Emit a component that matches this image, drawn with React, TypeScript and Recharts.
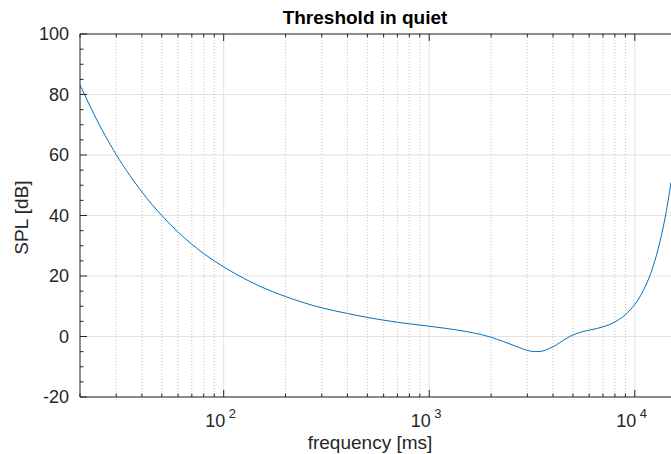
import React, { ReactElement } from "react";
import { LineChart, Line, XAxis, YAxis, CartesianGrid } from "recharts";

// frequency points (Hz) and threshold values (dB SPL)
const freq = [
    20, 22, 25, 28, 30, 35, 40, 45, 50, 60, 70, 80, 90, 100, 120, 150, 200, 250,
    300, 400, 500, 600, 700, 800, 1000, 1200, 1500, 1800, 2000, 2300, 2500, 2800,
    3000, 3300, 3500, 3800, 4000, 4300, 4500, 4800, 5000, 5500, 6000, 6500, 7000,
    7500, 8000, 8500, 9000, 9500, 10000, 10500, 11000, 11500, 12000, 12500, 13000,
    13500, 14000, 14500, 15000
];
const spl = [
    83.2, 77.2, 69.6, 63.6, 60.1, 53.2, 47.8, 43.5, 40.0, 34.5, 30.5, 27.4, 25.0,
    23.0, 19.9, 16.6, 13.2, 11.0, 9.5, 7.6, 6.3, 5.4, 4.7, 4.2, 3.4, 2.7, 1.7, 0.6,
    -0.25, -1.7, -2.6, -3.9, -4.6, -5.0, -4.9, -4.1, -3.4, -2.1, -1.2, -0.1, 0.5,
    1.5, 2.1, 2.6, 3.2, 3.9, 4.8, 5.9, 7.2, 8.8, 10.6, 12.7, 15.2, 18.0, 21.2,
    24.9, 29.0, 33.7, 38.8, 44.6, 51.0
];

const xMajorTicks = [100, 1000, 10000];
const xMajorExp = ["2", "3", "4"];
const xMinorTicks = [
    20, 30, 40, 50, 60, 70, 80, 90,
    200, 300, 400, 500, 600, 700, 800, 900,
    2000, 3000, 4000, 5000, 6000, 7000, 8000, 9000
];
const yMajorTicks = [-20, 0, 20, 40, 60, 80, 100];
const yMinorTicks = [-15, -10, -5, 5, 10, 15, 25, 30, 35, 45, 50, 55, 65, 70, 75, 85, 90, 95];

const data = freq.map((f, i) => ({ f, spl: spl[i] }));
const xTicks = [...xMinorTicks, ...xMajorTicks].sort((a, b) => a - b);
const yTicks = [...yMinorTicks, ...yMajorTicks].sort((a, b) => a - b);

const axisColor = "#262626";
const font = "'Liberation Sans', Arial, sans-serif";

const BottomTick = (props: any): ReactElement => {
    const { x, y, payload } = props;
    const idx = xMajorTicks.indexOf(payload.value);
    const major = idx >= 0;
    return (
        <g>
            <line x1={x} x2={x} y1={y} y2={y - (major ? 7 : 3.5)} stroke={axisColor} />
            {major && (
                <g fontFamily={font} fill={axisColor}>
                    <text x={x + 1.5} y={y + 30} textAnchor="end" fontSize={18}>10</text>
                    <text x={x + 5} y={y + 21} textAnchor="start" fontSize={13}>
                        {xMajorExp[idx]}
                    </text>
                </g>
            )}
        </g>
    );
};

const TopTick = (props: any): ReactElement => {
    const { x, y, payload } = props;
    const major = xMajorTicks.includes(payload.value);
    return <line x1={x} x2={x} y1={y} y2={y + (major ? 7 : 3.5)} stroke={axisColor} />;
};

const LeftTick = (props: any): ReactElement => {
    const { x, y, payload } = props;
    const major = yMajorTicks.includes(payload.value);
    return (
        <g>
            <line x1={x} x2={x + (major ? 7 : 3.5)} y1={y} y2={y} stroke={axisColor} />
            {major && (
                <text
                    x={x - 11}
                    y={y}
                    dy="0.36em"
                    textAnchor="end"
                    fontSize={18}
                    fontFamily={font}
                    fill={axisColor}
                >
                    {payload.value}
                </text>
            )}
        </g>
    );
};

const App = (): ReactElement => {
    return (
        <div style={{ position: "absolute", left: 0, top: 0, width: 671, height: 454, background: "#fff" }}>
            <LineChart
                width={671}
                height={454}
                data={data}
                margin={{ top: 0, right: 0, bottom: 0, left: 0 }}
            >
                <CartesianGrid
                    horizontalValues={yMajorTicks}
                    verticalValues={xMajorTicks}
                    stroke="#e3e3e3"
                />
                <CartesianGrid
                    horizontal={false}
                    verticalValues={xMinorTicks}
                    stroke="#c4c4c4"
                    strokeDasharray="1 2"
                />
                <XAxis
                    dataKey="f"
                    type="number"
                    scale="log"
                    domain={[20, 15000]}
                    allowDataOverflow
                    ticks={xTicks}
                    interval={0}
                    tick={<BottomTick />}
                    tickLine={false}
                    tickSize={0}
                    tickMargin={0}
                    height={57}
                    axisLine={{ stroke: axisColor }}
                />
                <XAxis
                    xAxisId="top"
                    orientation="top"
                    dataKey="f"
                    type="number"
                    scale="log"
                    domain={[20, 15000]}
                    allowDataOverflow
                    ticks={xTicks}
                    interval={0}
                    tick={<TopTick />}
                    tickLine={false}
                    tickSize={0}
                    tickMargin={0}
                    height={34}
                    axisLine={{ stroke: axisColor }}
                />
                <YAxis
                    type="number"
                    domain={[-20, 100]}
                    allowDataOverflow
                    ticks={yTicks}
                    interval={0}
                    tick={<LeftTick />}
                    tickLine={false}
                    tickSize={0}
                    tickMargin={0}
                    width={80}
                    axisLine={{ stroke: axisColor }}
                />
                <Line
                    type="monotone"
                    dataKey="spl"
                    stroke="#0072BD"
                    strokeWidth={1}
                    dot={false}
                    isAnimationActive={false}
                />
            </LineChart>
            <svg
                width={671}
                height={454}
                style={{ position: "absolute", left: 0, top: 0, pointerEvents: "none" }}
            >
                <text x={365} y={24} textAnchor="middle" fontSize={19} fontWeight="bold" fontFamily={font} fill="#000">
                    Threshold in quiet
                </text>
                <text x={370} y={449} textAnchor="middle" fontSize={19} fontFamily={font} fill={axisColor}>
                    frequency [ms]
                </text>
                <text
                    transform="translate(28,217.5) rotate(-90)"
                    textAnchor="middle"
                    fontSize={19}
                    fontFamily={font}
                    fill={axisColor}
                >
                    SPL [dB]
                </text>
            </svg>
        </div>
    );
};

export default App;
